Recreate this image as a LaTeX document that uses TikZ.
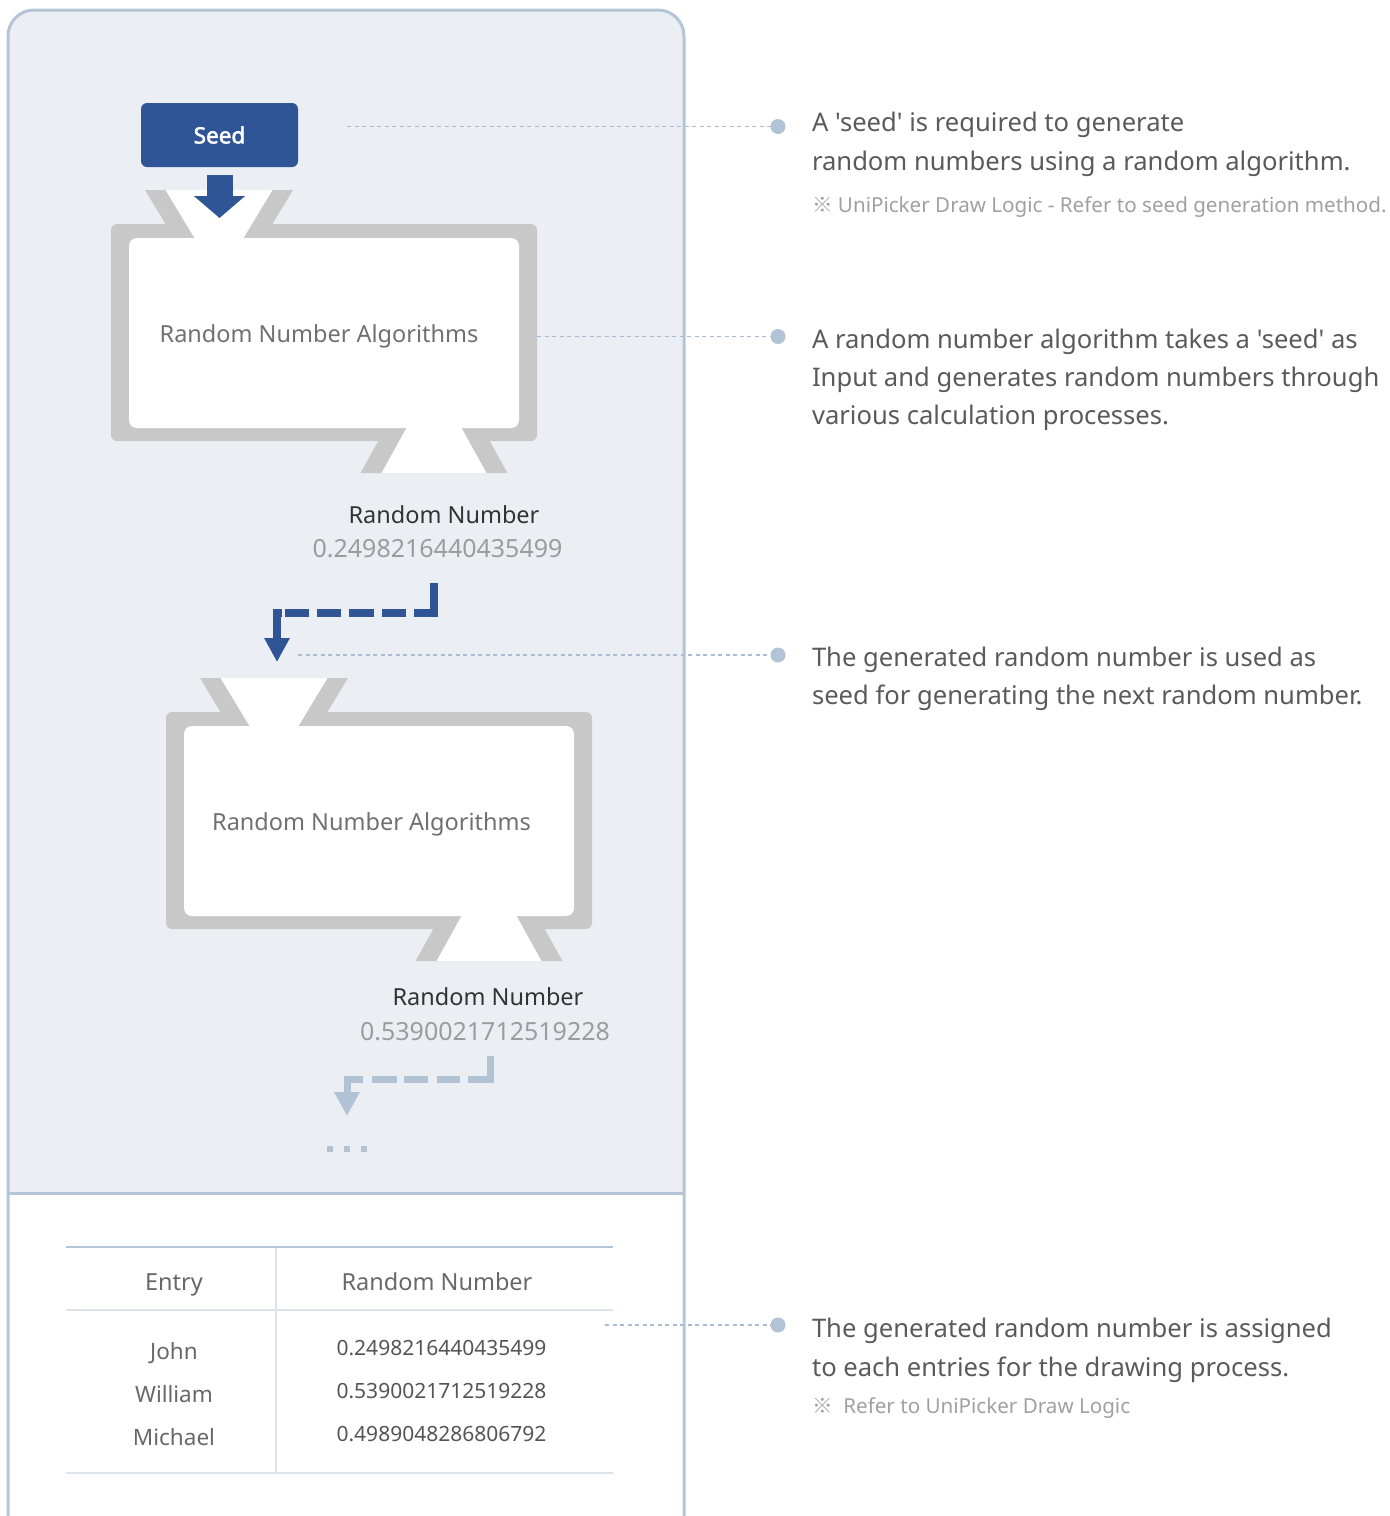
\documentclass[tikz,border=0pt]{standalone}
\usepackage{fontspec}
\setmainfont{Noto Sans}[Ligatures=TeXOff]
\newfontfamily\heavyfont{Noto Sans}[FakeBold=2.2]
\newfontfamily\cjkfont{Noto Sans CJK KR}
\usetikzlibrary{arrows.meta,calc}

\definecolor{panelbg}{HTML}{EBEEF3}
\definecolor{panelline}{HTML}{B5C5D8}
\definecolor{seedblue}{HTML}{2F5597}
\definecolor{framegray}{HTML}{C8C8C8}
\definecolor{paleblue}{HTML}{B0C2D4}
\definecolor{leadercol}{HTML}{A9BCD2}
\definecolor{dotcol}{HTML}{B2C3D6}
\definecolor{txtmain}{HTML}{5A5A5A}
\definecolor{txtalg}{HTML}{707070}
\definecolor{txtdark}{HTML}{333333}
\definecolor{txtval}{HTML}{9C9C9C}
\definecolor{txtnote}{HTML}{A0A0A0}
\definecolor{tablerule}{HTML}{DDE3EA}
\definecolor{tabletxt}{HTML}{686868}
\definecolor{tablenum}{HTML}{555555}

\newcommand{\fsz}[1]{\fontsize{#1}{#1}\selectfont}
\newcommand{\refmark}{{\cjkfont ※}}

% one "algorithm" machine: frame, input funnel, output funnel
\newcommand{\algomachine}[1]{%
  \node[frame] (#1frame) at (324,332.5) {};
  \fill[framegray] (145,190) -- (293,190) -- (267.6,232) -- (170.4,232) -- cycle;
  \fill[framegray] (381.1,436) -- (486.9,436) -- (507.5,473) -- (360.5,473) -- cycle;
  \node[innerbox] (#1) at (324,333) {};
  \fill[white] (165.5,190) -- (272.5,190) -- (242.3,240) -- (195.7,240) -- cycle;
  \fill[white] (408.7,424) -- (459.3,424) -- (486.5,473) -- (381.5,473) -- cycle;
}

\begin{document}
\begin{tikzpicture}[x=1pt,y=-1pt,
  every node/.style={inner sep=0pt, outer sep=0pt},
  frame/.style={fill=framegray, rounded corners=6pt, minimum width=426pt, minimum height=217pt},
  innerbox/.style={fill=white, rounded corners=8pt, minimum width=390pt, minimum height=190pt},
  seedbox/.style={fill=seedblue, rounded corners=6pt, minimum width=157pt, minimum height=64pt,
    text=white, font=\heavyfont\fsz{22.5}},
  seedarrow/.style={draw=seedblue, line width=26pt, -{Triangle[width=50pt,length=22pt]}},
  bluedash/.style={draw=seedblue, line width=8pt, line join=miter,
    -{Triangle[width=24pt,length=24pt]}},
  paledash/.style={draw=paleblue, line width=7pt, line join=miter,
    -{Triangle[width=24pt,length=24pt]}},
  algtxt/.style={text=txtalg, font=\fsz{23.5}, anchor=base},
  rnlabel/.style={text=txtdark, font=\fsz{23.5}, anchor=base},
  rnvalue/.style={text=txtval, font=\fsz{25}, anchor=base},
  leader/.style={draw=leadercol, line width=1.3pt, dash pattern=on 4pt off 3.5pt},
  dot/.style={circle, fill=dotcol, minimum size=15pt},
  desc/.style={text=txtmain, font=\fsz{25.6}, anchor=base west},
  note/.style={text=txtnote, font=\fsz{20.6}, anchor=base west},
  thead/.style={text=tabletxt, font=\fsz{23.5}, anchor=base},
  tname/.style={text=tabletxt, font=\fsz{22.5}, anchor=base},
  tnum/.style={text=tablenum, font=\fsz{21}, anchor=base},
]
\useasboundingbox (0,0) rectangle (1390,1516);

% panel background and border
\fill[panelbg, rounded corners=26pt] (8,1193.5) -- (8,10) -- (684,10) -- (684,1193.5);
\draw[panelline, line width=3pt, rounded corners=26pt] (8,1540) -- (8,10) -- (684,10) -- (684,1540);
\draw[panelline, line width=3pt] (8,1193.5) -- (684,1193.5);

% first machine
\algomachine{alg1}
\node[algtxt] (alg1txt) at (319,342) {Random Number Algorithms};

% second machine
\begin{scope}[shift={(55,488)}]
  \algomachine{alg2}
\end{scope}
\node[algtxt] (alg2txt) at (371.5,830) {Random Number Algorithms};

% seed input
\node[seedbox] (seed) at (219.5,135) {Seed};
\draw[seedarrow] ($(seed.south)+(0,8)$) -- ($(seed.south)+(0,51)$);

% outputs
\node[rnlabel] (rn1) at (444,523) {Random Number};
\node[rnvalue] (val1) at (437.5,557) {0.2498216440435499};
\node[rnlabel] (rn2) at (488,1005) {Random Number};
\node[rnvalue] (val2) at (485,1040) {0.5390021712519228};

% feedback arrows
\coordinate (fb1s) at (433.5,583);
\coordinate (fb1e) at (277,662);
\draw[bluedash, dash pattern=on 49pt off 8pt on 24pt off 8pt on 25pt off 8pt on 24pt off 8pt on 24pt off 3pt on 300pt]
  (fb1s) -- (fb1s |- 0,612.5) -- (fb1e |- 0,612.5) -- (fb1e);
\coordinate (fb2s) at (490,1056);
\coordinate (fb2e) at (347,1116);
\draw[paledash, dash pattern=on 45pt off 8pt on 23pt off 9pt on 24pt off 7pt on 25pt off 9pt on 300pt]
  (fb2s) -- (fb2s |- 0,1079) -- (fb2e |- 0,1079) -- (fb2e);
\draw[paleblue, line width=6pt, dash pattern=on 6pt off 11pt] (327,1148.5) -- (367,1148.5);

% result table
\draw[panelline, line width=2pt] (66,1247) -- (613,1247);
\draw[tablerule, line width=2pt] (66,1310) -- (613,1310);
\draw[tablerule, line width=2pt] (66,1472.5) -- (613,1472.5);
\draw[tablerule, line width=1.5pt] (276,1248) -- (276,1471.5);
\node[thead] (hEntry) at (174,1290.5) {Entry};
\node[thead] (hRN) at (437,1290.5) {Random Number};
\node[tname] (nJohn) at (174,1359) {John};
\node[tname] (nWilliam) at (174,1402) {William};
\node[tname] (nMichael) at (174,1445) {Michael};
\node[tnum] (vJohn) at (441.5,1355.5) {0.2498216440435499};
\node[tnum] (vWilliam) at (441.5,1398.5) {0.5390021712519228};
\node[tnum] (vMichael) at (441.5,1441.5) {0.4989048286806792};

% leaders and descriptions
\node[dot] (d1) at (778,126.5) {};
\node[dot] (d2) at (778,336.5) {};
\node[dot] (d3) at (778,655) {};
\node[dot] (d4) at (778,1325) {};
\coordinate (l1) at (347,126.5);
\coordinate (l3) at (298,655);
\coordinate (l4) at (605,1325);
\draw[leader] (l1) -- (d1);
\draw[leader] (alg1frame.east |- d2) -- (d2);
\draw[leader] (l3) -- (d3);
\draw[leader] (l4) -- (d4);

\node[desc] (t1a) at (812,131) {A 'seed' is required to generate};
\node[desc] (t1b) at (812,170) {random numbers using a random algorithm.};
\node[note] (t1c) at (812,212) {\refmark\ UniPicker Draw Logic - Refer to seed generation method.};

\node[desc] (t2a) at (812,348) {A random number algorithm takes a 'seed' as};
\node[desc] (t2b) at (812,386) {Input and generates random numbers through};
\node[desc] (t2c) at (812,424) {various calculation processes.};

\node[desc] (t3a) at (812,666) {The generated random number is used as};
\node[desc] (t3b) at (812,704) {seed for generating the next random number.};

\node[desc] (t4a) at (812,1337) {The generated random number is assigned};
\node[desc] (t4b) at (812,1376) {to each entries for the drawing process.};
\node[note] (t4c) at (812,1413) {\refmark\ \ Refer to UniPicker Draw Logic};
\end{tikzpicture}
\end{document}
